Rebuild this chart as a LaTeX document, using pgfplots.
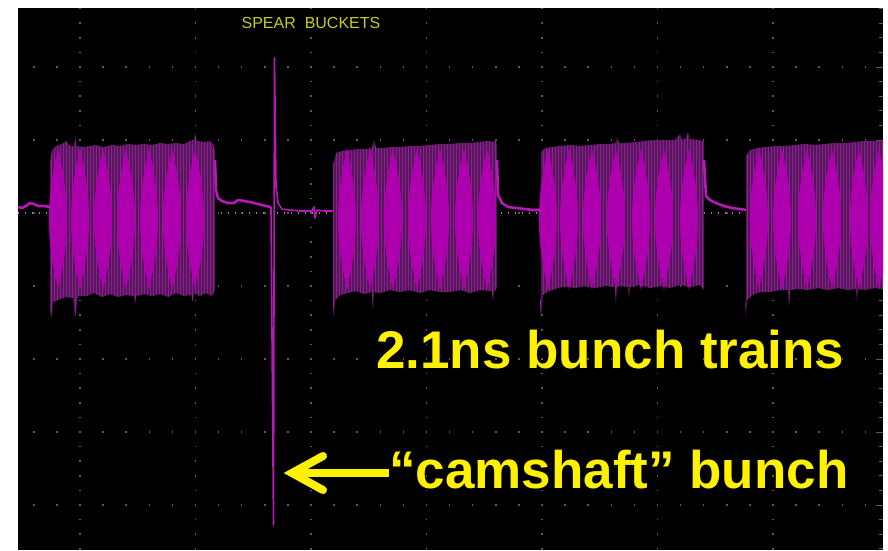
\documentclass[border=0pt]{standalone}
\usepackage{pgfplots}
\pgfplotsset{compat=1.18}
\usepackage{fontspec}
\setmainfont{Liberation Sans}
\usetikzlibrary{patterns}

\definecolor{lobec}{HTML}{AE00AE}
\definecolor{envdark}{HTML}{5C125E}
\definecolor{stripe}{HTML}{80288A}
\definecolor{trace}{HTML}{B818B8}
\definecolor{gridc}{HTML}{5C5C5C}
\definecolor{titley}{HTML}{CACA22}
\definecolor{basedot}{HTML}{C868C8}

% bright beat lobe inside a bunch train (1pt = 1px here)
\pgfdeclareplotmark{lobe}{%
  \pgfpathmoveto{\pgfqpoint{0pt}{71pt}}%
  \pgfpathcurveto{\pgfqpoint{4pt}{52pt}}{\pgfqpoint{9pt}{30pt}}{\pgfqpoint{9pt}{0pt}}%
  \pgfpathcurveto{\pgfqpoint{9pt}{-30pt}}{\pgfqpoint{4pt}{-52pt}}{\pgfqpoint{0pt}{-71pt}}%
  \pgfpathcurveto{\pgfqpoint{-4pt}{-52pt}}{\pgfqpoint{-9pt}{-30pt}}{\pgfqpoint{-9pt}{0pt}}%
  \pgfpathcurveto{\pgfqpoint{-9pt}{30pt}}{\pgfqpoint{-4pt}{52pt}}{\pgfqpoint{0pt}{71pt}}%
  \pgfpathclose\pgfusepathqfill}

\begin{document}
\begin{tikzpicture}
\fill[white] (-18pt,0pt) rectangle (870pt,550pt);
\begin{axis}[
    scale only axis,
    width=865pt, height=542pt,
    xmin=18, xmax=883, ymin=8, ymax=550,
    y dir=reverse,
    axis background/.style={fill=black},
    axis line style={draw=none},
    xtick=\empty, ytick=\empty,
    clip marker paths=true,
]

% scope graticule
\pgfplotsinvokeforeach{80,195.5,311,426.5,542,657.5,773}{
  \draw[gridc, line width=1.5pt, dash pattern=on 1.5pt off 13.1pt] (axis cs:#1,7.85) -- (axis cs:#1,552);}
\pgfplotsinvokeforeach{67,140,213,286,359,432,505}{
  \draw[gridc, line width=1.5pt, dash pattern=on 1.5pt off 21.6pt] (axis cs:9.95,#1) -- (axis cs:890,#1);
  \draw[gridc, line width=1pt] (axis cs:883,#1) -- (axis cs:876,#1);}
\pgfplotsinvokeforeach{0,...,37}{
  \draw[gridc, line width=1pt] (axis cs:883,{8.6+14.6*#1}) -- (axis cs:879,{8.6+14.6*#1});}

% zero reference line
\addplot[basedot, line width=1.3pt, dash pattern=on 1.3pt off 5.7pt] coordinates {(18,213) (883,213)};

% bunch train envelopes
\addplot[fill=envdark, draw=none, postaction={pattern=vertical lines, pattern color=stripe}] coordinates {
(50,300) (50,162) (52,150) (56,146) (62,144) (66,141) (70,146) (74,146) (75,136) (76,146) (85,147) (95,145) (104,147) (112,145) (120,146) (128,144) (136,145) (144,144) (152,145) (160,143) (168,144) (176,143) (184,144) (190,141) (194,140) (195,134) (197,141) (204,142) (210,141) (213,144) (215,150)
(215,290) (212,296) (206,293) (200,296) (194,293) (193,302) (191,295) (184,296) (176,293) (168,297) (160,294) (152,296) (144,294) (136,296) (135,304) (134,296) (126,295) (118,297) (110,294) (102,297) (94,293) (86,296) (78,296) (75,318) (73,298) (66,297) (58,300) (53,302) (51,318) (50,310)} -- cycle;
\addplot[fill=envdark, draw=none, postaction={pattern=vertical lines, pattern color=stripe}] coordinates {
(333,300) (333,165) (336,153) (342,151) (350,150) (358,149) (366,149) (372,148) (374,140) (376,148) (384,148) (392,147) (400,147) (410,146) (420,146) (430,145) (440,144) (450,144) (460,143) (470,143) (480,142) (488,141) (494,142) (496,139) (497,146)
(497,288) (494,292) (493,300) (492,291) (480,290) (470,293) (460,290) (450,292) (440,292) (430,290) (420,293) (410,290) (400,292) (390,290) (380,293) (374,292) (373,310) (372,292) (364,294) (356,291) (348,293) (340,295) (335,300) (334,317) (333,305)} -- cycle;
\addplot[fill=envdark, draw=none, postaction={pattern=vertical lines, pattern color=stripe}] coordinates {
(541,300) (541,152) (545,148) (552,147) (560,146) (570,145) (580,146) (590,145) (600,144) (610,144) (616,143) (617,137) (619,143) (628,143) (636,142) (645,141) (655,140) (665,140) (675,140) (680,134) (682,140) (686,138) (688,133) (690,139) (698,140) (704,141)
(704,290) (700,285) (690,287) (680,285) (670,288) (660,286) (650,288) (640,285) (630,287) (629,299) (628,287) (620,286) (617,287) (616,303) (615,287) (605,286) (595,288) (585,286) (575,288) (565,286) (555,289) (547,292) (543,295) (541,318) (540,300)} -- cycle;
\addplot[fill=envdark, draw=none, postaction={pattern=vertical lines, pattern color=stripe}] coordinates {
(746,300) (746,156) (750,150) (758,148) (766,147) (775,146) (785,146) (795,145) (805,144) (815,145) (825,144) (835,143) (845,143) (855,142) (865,141) (875,141) (890,140)
(890,290) (875,288) (865,290) (858,289) (857,302) (856,289) (848,290) (838,288) (828,290) (818,288) (808,290) (798,289) (790,290) (789,307) (788,290) (780,290) (770,292) (760,292) (752,295) (747,300) (746,318) (745,305)} -- cycle;

% bright beat lobes
\addplot[only marks, mark=lobe, mark options={fill=lobec, draw=none}] coordinates {
(58,219) (80,219) (103,219) (126,219) (149,219) (172,219) (195,219)
(347,219) (370,219) (393,219) (417,219) (440,219) (464,219) (487,219)
(548,219) (569,219) (592,219) (616,219) (641,219) (664,219) (689,219)
(759,219) (782,219) (807,219) (832,219) (859,219) (879,219)};

% trace between trains
\addplot[trace, line width=2.6pt, line join=round] coordinates {
(18,207) (22,208) (26,206) (30,203) (34,204) (38,206) (44,206) (50,207)};
\addplot[trace, line width=2.6pt, line join=round] coordinates {
(215,160) (216,190) (218,198) (222,201) (228,203) (234,203) (238,200) (244,201) (250,202) (258,204) (266,206) (271,207)};
\addplot[trace, line width=1.6pt, line join=round] coordinates {
(271,207) (273.5,525) (274.5,58) (276,185) (278,203) (282,209) (290,210) (300,211) (312,211) (314,207) (315,218) (317,210) (325,211) (333,211)};
\addplot[trace, line width=2.6pt, line join=round] coordinates {
(497,160) (498,195) (502,203) (508,207) (516,208) (525,209) (533,210) (541,210)};
\addplot[trace, line width=2.6pt, line join=round] coordinates {
(704,160) (706,196) (710,200) (716,203) (724,206) (732,208) (740,209) (746,210)};

% labels
\node[titley, anchor=center, font=\fontsize{16}{18}\selectfont] at (axis cs:311,23) {SPEAR\ \ BUCKETS};
\node[yellow, anchor=base west, inner sep=0pt, font=\bfseries\fontsize{53}{60}\selectfont] at (axis cs:376,368) {2.1ns bunch trains};
\node[yellow, anchor=base west, inner sep=0pt, font=\bfseries\fontsize{53}{60}\selectfont] at (axis cs:389,488) {“camshaft” bunch};
\draw[yellow, line width=7.5pt] (axis cs:389,473) -- (axis cs:298,473);
\draw[yellow, line width=8pt, line cap=round, line join=miter] (axis cs:323,456) -- (axis cs:292,473) -- (axis cs:323,490);
\end{axis}
\pgfresetboundingbox
\useasboundingbox (-18pt,0pt) rectangle (870pt,550pt);
\end{tikzpicture}
\end{document}
